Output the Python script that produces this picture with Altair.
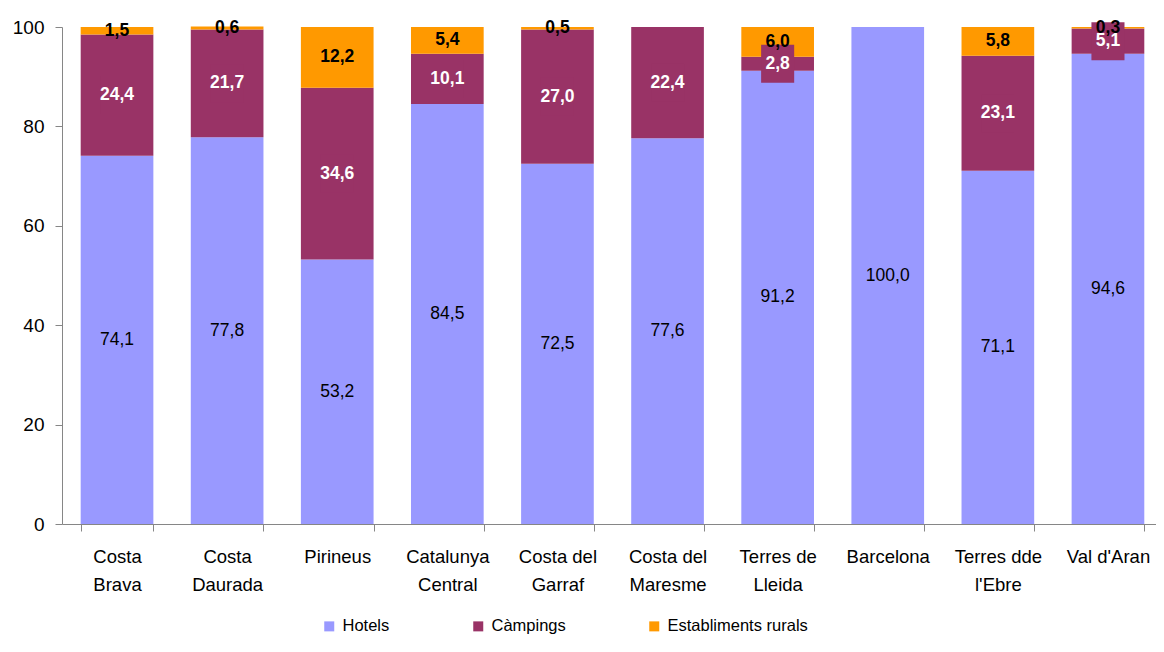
import altair as alt
import pandas as pd

categories = ["Costa Brava", "Costa Daurada", "Pirineus", "Catalunya Central",
              "Costa del Garraf", "Costa del Maresme", "Terres de Lleida",
              "Barcelona", "Terres dde l'Ebre", "Val d'Aran"]
series = ["Hotels", "Càmpings", "Establiments rurals"]
hotels = [74.1, 77.8, 53.2, 84.5, 72.5, 77.6, 91.2, 100.0, 71.1, 94.6]
campings = [24.4, 21.7, 34.6, 10.1, 27.0, 22.4, 2.8, 0.0, 23.1, 5.1]
rurals = [1.5, 0.6, 12.2, 5.4, 0.5, 0.0, 6.0, 0.0, 5.8, 0.3]
colors = ["#9999FF", "#993366", "#FF9900"]

rows = []
for i, c in enumerate(categories):
    for j, vals in enumerate([hotels, campings, rurals]):
        rows.append({"region": c, "series": series[j], "order": j, "value": vals[i]})
df = pd.DataFrame(rows)

FONT = "Liberation Sans"
GRAY = "#868686"

base = alt.Chart(df).transform_stack(
    stack="value", groupby=["region"],
    sort=[alt.SortField(field="order", order="ascending")],
    as_=["y0", "y1"],
).transform_calculate(
    mid="(datum.y0 + datum.y1) / 2",
    lab="replace(format(datum.value, '.1f'), '.', ',')",
)

label_expr = ("length(datum.label) > 10 ? [substring(datum.label, 0, lastindexof(datum.label, ' ')), "
              "substring(datum.label, lastindexof(datum.label, ' ') + 1)] : datum.label")

x_scale = alt.Scale(paddingInner=0.34, paddingOuter=0.138, align=0.615)
x_enc = alt.X(
    "region:N", sort=categories, title=None, scale=x_scale,
    axis=alt.Axis(labelAngle=0, tickBand="extent", labelExpr=label_expr,
                  labelFont=FONT, labelFontSize=18.5, labelLineHeight=28,
                  labelColor="black", labelPadding=16, tickSize=7,
                  domainColor=GRAY, tickColor=GRAY, labelLimit=200),
)
y_scale = alt.Scale(domain=[0, 100], nice=False)

bars = base.mark_bar(strokeWidth=0).encode(
    x=x_enc,
    y=alt.Y("y0:Q", scale=y_scale, title=None,
            axis=alt.Axis(values=[0, 20, 40, 60, 80, 100], grid=False,
                          labelFont=FONT, labelFontSize=19, labelColor="black",
                          labelPadding=11, tickSize=7, domainColor=GRAY,
                          tickColor=GRAY)),
    y2="y1:Q",
    color=alt.Color(
        "series:N", sort=series,
        scale=alt.Scale(domain=series, range=colors),
        legend=alt.Legend(title=None, orient="none", legendX=259, legendY=591,
                          direction="horizontal", symbolType="square",
                          symbolSize=100, symbolStrokeWidth=0, labelFont=FONT,
                          labelFontSize=16.5, labelOffset=5, columnPadding=80,
                          labelColor="black", padding=0),
    ),
    order=alt.Order("order:Q"),
)

box_path = "M-0.87,-1L0.87,-1L0.87,1L-0.87,1Z"
camp_box = base.transform_filter(
    "datum.series == 'Càmpings' && datum.value > 0"
).mark_point(shape=box_path, filled=True, size=1444, opacity=1,
             color="#993366", strokeWidth=0).encode(
    x=alt.X("region:N", sort=categories),
    y=alt.Y("mid:Q", scale=y_scale),
)

def text_layer(name, color, weight):
    return base.transform_filter(
        f"datum.series == '{name}' && datum.value > 0"
    ).mark_text(font=FONT, fontSize=17.5, fontWeight=weight, color=color,
                baseline="middle", align="center").encode(
        x=alt.X("region:N", sort=categories),
        y=alt.Y("mid:Q", scale=y_scale),
        text="lab:N",
    )

chart = alt.layer(
    bars,
    camp_box,
    text_layer("Hotels", "black", "normal"),
    text_layer("Càmpings", "white", "bold"),
    text_layer("Establiments rurals", "black", "bold"),
).properties(
    width=1094, height=497,
    autosize=alt.AutoSizeParams(type="none"),
    padding={"left": 54, "top": 19, "right": 0, "bottom": 114},
).configure_view(stroke=None)

chart.save("out.html", embed_options={"renderer": "svg", "actions": False})
